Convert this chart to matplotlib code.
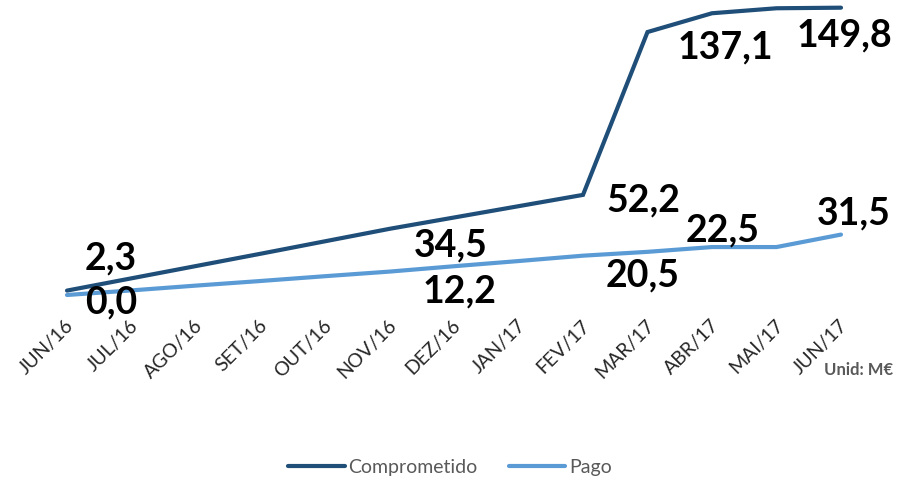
import numpy as np
import matplotlib
matplotlib.use("Agg")
from matplotlib import pyplot as plt
from matplotlib import transforms

plt.rcParams['font.family'] = ['Lato', 'DejaVu Sans']

months = ["JUN/16", "JUL/16", "AGO/16", "SET/16", "OUT/16", "NOV/16", "DEZ/16",
          "JAN/17", "FEV/17", "MAR/17", "ABR/17", "MAI/17", "JUN/17"]
comprometido = [2.3, 8.7, 15.1, 21.5, 28.0, 34.5, 40.4, 46.3, 52.2, 137.1, 146.9, 149.5, 149.8]
pago = [0.0, 2.4, 4.9, 7.3, 9.8, 12.2, 15.0, 17.7, 20.5, 22.5, 25.0, 25.0, 31.5]

# month indexes that carry a value label
comp_labels = [0, 5, 8, 9, 12]
pago_labels = [0, 5, 8, 9, 12]

dark = "#1F4E79"
light = "#5B9BD5"
grey = "#595959"

fig = plt.figure(figsize=(9.04, 4.8), dpi=100)
ax = fig.add_axes([67 / 904, (480 - 295) / 480, 774 / 904, 287.7 / 480])

x = np.arange(len(months))
ax.plot(x, comprometido, color=dark, linewidth=3, solid_capstyle='round',
        solid_joinstyle='miter', label='Comprometido', clip_on=False)
ax.plot(x, pago, color=light, linewidth=3, solid_capstyle='round',
        solid_joinstyle='miter', label='Pago', clip_on=False)

ax.set_xlim(0, len(months) - 1)
ax.set_ylim(0, 150)

# label offsets in pixels from the data point
comp_off = [(44, 21), (61, -28), (60, -17), (78, -26), (3, -39)]
pago_off = [(44, -18), (70, -31), (60, -31), (75, 10), (13, 10)]


def fmt(v):
    return f"{v:.1f}".replace(".", ",")


for i, off in zip(comp_labels, comp_off):
    ax.annotate(fmt(comprometido[i]), (x[i], comprometido[i]), xytext=off,
                textcoords='offset pixels', ha='center', va='baseline',
                fontsize=27, fontweight='bold', color='black', annotation_clip=False)
for i, off in zip(pago_labels, pago_off):
    ax.annotate(fmt(pago[i]), (x[i], pago[i]), xytext=off,
                textcoords='offset pixels', ha='center', va='baseline',
                fontsize=27, fontweight='bold', color='black', annotation_clip=False)

ax.set_xticks(x)
ax.set_xticklabels(months, rotation=45, ha='right', va='center',
                   rotation_mode='anchor', fontsize=14, color='#262626')
ax.tick_params(axis='x', length=0, pad=20)
shift = transforms.ScaledTranslation(4 / 100, 0, fig.dpi_scale_trans)
for lab in ax.get_xticklabels():
    lab.set_transform(lab.get_transform() + shift)
ax.set_yticks([])
for s in ax.spines.values():
    s.set_visible(False)

fig.text(893 / 904, 1 - 370 / 480, "Unid: M€", ha='right', va='center',
         fontsize=12, fontweight='bold', color=grey)

leg = fig.legend(loc='center', bbox_to_anchor=(450 / 904, 1 - 467 / 480), ncol=2,
                 frameon=False, fontsize=14, handlelength=2.9, columnspacing=1.6,
                 handletextpad=0.2)
for t in leg.get_texts():
    t.set_color(grey)

fig.savefig("out.png", dpi=100)
